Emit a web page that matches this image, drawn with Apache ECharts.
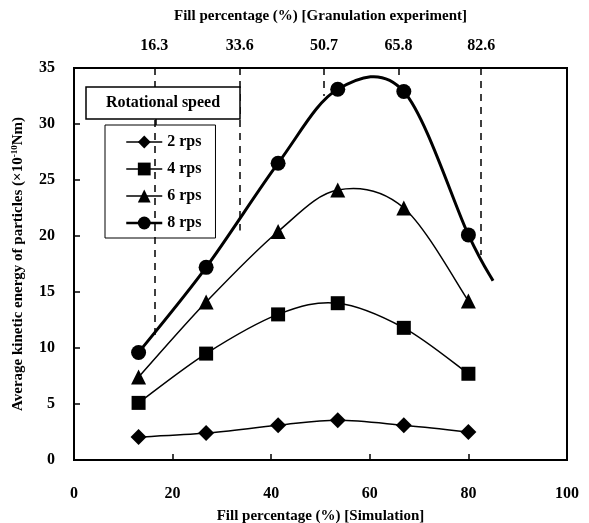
<!DOCTYPE html>
<html>
<head>
<meta charset="utf-8">
<script src="https://cdn.jsdelivr.net/npm/echarts@6/dist/echarts.min.js"></script>
<style>
  html, body { margin: 0; padding: 0; background: #fff; }
  #main { width: 589px; height: 523px; }
</style>
</head>
<body>
<div id="main"></div>
<script>
// simulation fill percentage (%)
var fill = [13.1, 26.8, 41.4, 53.5, 66.9, 80];
var rps2 = [2.05, 2.4, 3.1, 3.55, 3.1, 2.5];
var rps4 = [5.1, 9.5, 13.0, 14.0, 11.8, 7.7];
var rps6 = [7.4, 14.1, 20.4, 24.1, 22.5, 14.2];
var rps8 = [9.6, 17.2, 26.5, 33.1, 32.9, 20.1];
// end of the 8 rps curve (drawn without marker)
var rps8Tail = [85, 16.0];

// granulation experiment fill percentage (%) and where its dashed line stops
var granFill = [16.3, 33.6, 50.7, 65.8, 82.6];
var granEnd = [11.1, 20.5, 32.5, 34.1, 18.3];

var font = 'Liberation Serif';

function pairs (ys) {
  return fill.map(function (x, i) { return [x, ys[i]]; });
}

// markers + legend entry
function markerSeries (name, ys, symbol, size) {
  return {
    name: name,
    type: 'line',
    symbol: symbol,
    symbolSize: size,
    lineStyle: { color: '#000', width: 0, opacity: 0 },
    itemStyle: { color: '#000' },
    z: 3,
    data: pairs(ys)
  };
}

// spreadsheet-style smoothed curve through the points
function curveSeries (name, pts, width) {
  return {
    name: name,
    type: 'custom',
    data: [0],
    z: 2,
    silent: true,
    renderItem: function (params, api) {
      var p = pts.map(function (d) { return api.coord(d); });
      var path = 'M' + p[0][0] + ' ' + p[0][1];
      for (var i = 0; i < p.length - 1; i++) {
        var p0 = p[i - 1] || p[i];
        var p1 = p[i];
        var p2 = p[i + 1];
        var p3 = p[i + 2] || p[i + 1];
        var c1x = p1[0] + (p2[0] - p0[0]) / 6;
        var c1y = p1[1] + (p2[1] - p0[1]) / 6;
        var c2x = p2[0] - (p3[0] - p1[0]) / 6;
        var c2y = p2[1] - (p3[1] - p1[1]) / 6;
        path += ' C' + c1x + ' ' + c1y + ' ' + c2x + ' ' + c2y + ' ' + p2[0] + ' ' + p2[1];
      }
      return {
        type: 'path',
        shape: { pathData: path },
        style: { fill: 'none', stroke: '#000', lineWidth: width }
      };
    }
  };
}

var s8 = markerSeries('8 rps', rps8, 'circle', 15);
s8.markLine = {
  silent: true,
  symbol: 'none',
  label: { show: false },
  lineStyle: { color: '#000', type: [7, 6], width: 1.5, opacity: 1 },
  data: granFill.map(function (x, i) {
    return [{ coord: [x, 35] }, { coord: [x, granEnd[i]] }];
  })
};

var legendLine = function (name, w) {
  return { name: name, lineStyle: { color: '#000', width: w, opacity: 1 } };
};

var myChart = echarts.init(document.getElementById('main'));

option = {
  animation: false,
  textStyle: { fontFamily: font, color: '#000' },
  grid: {
    left: 74, right: 22, top: 68, bottom: 63,
    outerBoundsMode: 'none',
    show: true, borderColor: '#000', borderWidth: 2
  },
  legend: {
    orient: 'vertical',
    left: 105,
    top: 125,
    width: 116,
    padding: [9, 14, 7, 20],
    itemGap: 11,
    itemWidth: 36,
    itemHeight: 16,
    borderColor: '#000',
    borderWidth: 1,
    textStyle: { fontFamily: font, fontWeight: 'bold', fontSize: 16, color: '#000' },
    data: [legendLine('2 rps', 1.5), legendLine('4 rps', 1.5), legendLine('6 rps', 1.5), legendLine('8 rps', 2.5)]
  },
  graphic: [
    {
      type: 'rect',
      shape: { x: 86, y: 87, width: 154, height: 32 },
      style: { fill: '#fff', stroke: '#000', lineWidth: 1.5 },
      z: 10
    },
    {
      type: 'text',
      x: 163, y: 103,
      style: {
        text: 'Rotational speed',
        font: 'bold 16px Liberation Serif',
        fill: '#000',
        align: 'center',
        verticalAlign: 'middle'
      },
      z: 11
    },
    {
      type: 'line',
      shape: { x1: 156, y1: 119, x2: 156, y2: 125 },
      style: { stroke: '#000', lineWidth: 1.5 },
      z: 10
    }
  ],
  xAxis: [
    {
      type: 'value',
      position: 'bottom',
      min: 0, max: 100, interval: 20,
      name: 'Fill percentage (%) [Simulation]',
      nameLocation: 'middle',
      nameGap: 49,
      nameTextStyle: { fontFamily: font, fontWeight: 'bold', fontSize: 15, color: '#000' },
      axisLine: { show: true, lineStyle: { color: '#000', width: 2 } },
      axisTick: { show: true, inside: true, length: 6, lineStyle: { color: '#000', width: 1.5 } },
      axisLabel: { margin: 26, fontFamily: font, fontWeight: 'bold', fontSize: 16, color: '#000' },
      splitLine: { show: false }
    },
    {
      type: 'value',
      position: 'top',
      min: 0, max: 100,
      name: 'Fill percentage (%) [Granulation experiment]',
      nameLocation: 'middle',
      nameGap: 44,
      nameTextStyle: { fontFamily: font, fontWeight: 'bold', fontSize: 15, color: '#000' },
      axisLine: { show: true, lineStyle: { color: '#000', width: 2 } },
      axisTick: { show: false },
      axisLabel: {
        customValues: granFill,
        margin: 14,
        fontFamily: font, fontWeight: 'bold', fontSize: 16, color: '#000',
        formatter: function (v) { return v.toFixed(1); }
      },
      splitLine: { show: false }
    }
  ],
  yAxis: {
    type: 'value',
    min: 0, max: 35, interval: 5,
    name: 'Average kinetic energy of particles (×10{sup|-10}Nm)',
    nameLocation: 'middle',
    nameGap: 47,
    nameTextStyle: {
      fontFamily: font, fontWeight: 'bold', fontSize: 15, color: '#000',
      rich: { sup: { fontFamily: font, fontWeight: 'bold', fontSize: 9, color: '#000', verticalAlign: 'top', padding: [0, 0, 8, 0] } }
    },
    axisLine: { show: true, lineStyle: { color: '#000', width: 2 } },
    axisTick: { show: true, inside: true, length: 6, lineStyle: { color: '#000', width: 1.5 } },
    axisLabel: { margin: 19, fontFamily: font, fontWeight: 'bold', fontSize: 16, color: '#000' },
    splitLine: { show: false }
  },
  series: [
    curveSeries('2 rps curve', pairs(rps2), 1.5),
    curveSeries('4 rps curve', pairs(rps4), 1.5),
    curveSeries('6 rps curve', pairs(rps6), 1.5),
    curveSeries('8 rps curve', pairs(rps8).concat([rps8Tail]), 3),
    markerSeries('2 rps', rps2, 'diamond', 16),
    markerSeries('4 rps', rps4, 'rect', 14),
    markerSeries('6 rps', rps6, 'triangle', 15),
    s8
  ]
};

myChart.setOption(option);
</script>
</body>
</html>
